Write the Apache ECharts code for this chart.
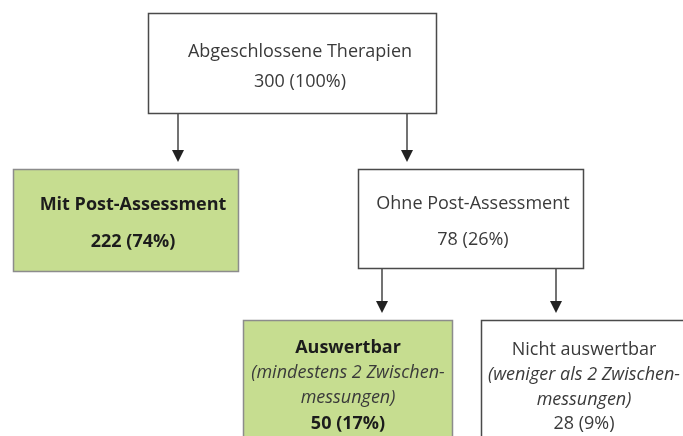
<!DOCTYPE html>
<html>
<head>
<meta charset="utf-8">
<script src="https://cdn.jsdelivr.net/npm/echarts@6/dist/echarts.min.js"></script>
<style>
  html, body { margin: 0; padding: 0; background: #fff; }
  #chart { width: 683px; height: 436px; }
</style>
</head>
<body>
<div id="chart"></div>
<script>
// Knoten des Flussdiagramms
var nodeTitles = ['Abgeschlossene Therapien', 'Mit Post-Assessment', 'Ohne Post-Assessment', 'Auswertbar', 'Nicht auswertbar'];
var nodeNotes = ['', '', '', '(mindestens 2 Zwischen-|messungen)', '(weniger als 2 Zwischen-|messungen)'];
var nodeCounts = [300, 222, 78, 50, 28];
var nodePercents = [100, 74, 26, 17, 9];
var nodeHighlight = [false, true, false, true, false];
// Verbindungen: [von, nach]
var edges = [[0, 1], [0, 2], [2, 3], [2, 4]];

// Layout (Pixel): Kasten x, y, Breite, Höhe, Textmitte, Zeilen
var layout = [
    { x: 148, y: 13, w: 288, h: 100, cx: 300, lines: [52, 82] },
    { x: 13, y: 169, w: 225, h: 102, cx: 133, lines: [205, 242] },
    { x: 358, y: 169, w: 225, h: 99, cx: 473, lines: [204, 240] },
    { x: 243, y: 320, w: 209, h: 130, cx: 348, lines: [348, 373, 398, 424] },
    { x: 481, y: 320, w: 210, h: 130, cx: 584, lines: [350, 375, 400, 424] }
];
// Pfeil-x-Positionen je Verbindung
var edgeX = [178, 407, 382, 556];

var FONT = '"Open Sans", "Noto Sans", sans-serif';

var myChart = echarts.init(document.getElementById('chart'));

function nodeItem(params, api) {
    var i = api.value(0);
    var b = layout[i];
    var hi = nodeHighlight[i];
    var children = [{
        type: 'rect',
        shape: { x: b.x + 0.5, y: b.y + 0.5, width: b.w, height: b.h },
        style: {
            fill: hi ? '#c6dd90' : '#ffffff',
            stroke: hi ? '#8c8c8c' : '#4a4a4a',
            lineWidth: 1.5
        }
    }];
    var texts = [{ t: nodeTitles[i], bold: hi, italic: false }];
    if (nodeNotes[i]) {
        nodeNotes[i].split('|').forEach(function (s) {
            texts.push({ t: s, bold: false, italic: true });
        });
    }
    texts.push({ t: nodeCounts[i] + ' (' + nodePercents[i] + '%)', bold: hi, italic: false });
    texts.forEach(function (tx, k) {
        children.push({
            type: 'text',
            x: b.cx,
            y: b.lines[k],
            style: {
                text: tx.t,
                fill: hi && !tx.italic ? '#1c1c1c' : '#3a3a3a',
                font: (tx.italic ? 'italic ' : '') + (tx.bold ? 'bold ' : '') + '18px ' + FONT,
                align: 'center',
                verticalAlign: 'middle'
            }
        });
    });
    return { type: 'group', children: children };
}

function edgeItem(params, api) {
    var e = edges[api.value(0)];
    var from = layout[e[0]];
    var to = layout[e[1]];
    var x = edgeX[api.value(0)];
    var y0 = from.y + from.h;
    var tip = to.y - 7;
    return {
        type: 'group',
        children: [{
            type: 'line',
            shape: { x1: x, y1: y0, x2: x, y2: tip - 8 },
            style: { stroke: '#444', lineWidth: 1.5 }
        }, {
            type: 'polygon',
            shape: { points: [[x - 6, tip - 12], [x + 6, tip - 12], [x, tip]] },
            style: { fill: '#222' }
        }]
    };
}

var option = {
    backgroundColor: '#ffffff',
    animation: false,
    series: [{
        type: 'custom',
        coordinateSystem: 'none',
        renderItem: edgeItem,
        data: edges.map(function (e, i) { return [i]; })
    }, {
        type: 'custom',
        coordinateSystem: 'none',
        renderItem: nodeItem,
        data: nodeTitles.map(function (n, i) { return [i]; })
    }]
};

myChart.setOption(option);
</script>
</body>
</html>
